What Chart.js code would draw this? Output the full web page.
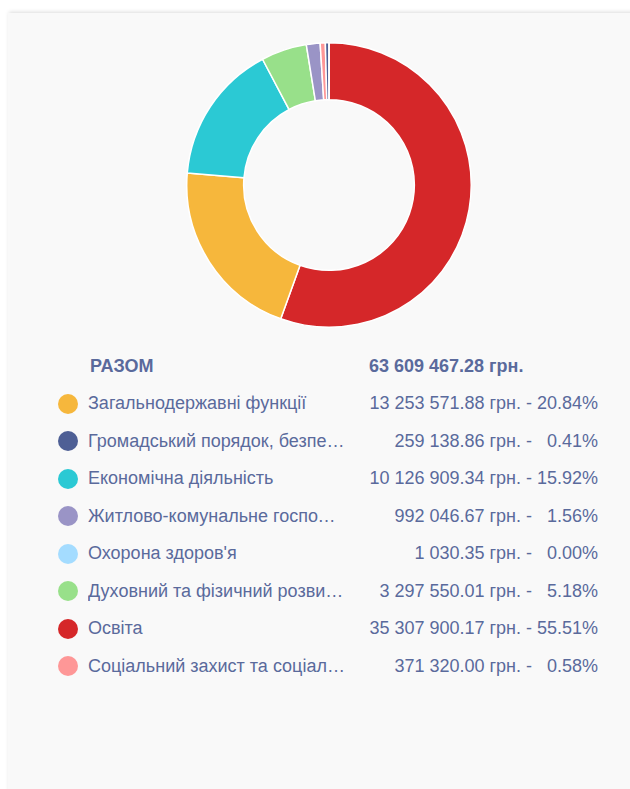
<!DOCTYPE html>
<html>
<head>
<meta charset="utf-8">
<script src="https://cdn.jsdelivr.net/npm/chart.js@4/dist/chart.umd.min.js"></script>
<style>
  html, body { margin: 0; padding: 0; background: #ffffff; width: 630px; height: 789px; overflow: hidden; }
  #panel {
    position: absolute; left: 8px; top: 13px; width: 640px; height: 800px;
    background: #f9f9f9; box-shadow: 0 -2px 4px -1px rgba(0,0,0,0.14);
  }
  #chartBox { position: absolute; left: 186px; top: 42px; width: 286px; height: 286px; }
  #legend {
    position: absolute; left: 56px; top: 347.5px; width: 542px;
    font-family: "Liberation Sans", Arial, sans-serif; font-size: 18px; color: #5a6a9c;
  }
  .row { position: relative; height: 37.5px; display: flex; align-items: center; }
  .dot { position: absolute; left: 2px; width: 20px; height: 20px; border-radius: 50%; }
  .lab { position: absolute; left: 32px; width: 258px; white-space: nowrap; overflow: hidden; text-overflow: ellipsis; }
  .amt { position: absolute; right: 66px; white-space: nowrap; text-align: right; }
  .pct { position: absolute; right: 0; width: 62px; text-align: right; white-space: nowrap; }
  .total .lab { font-weight: bold; left: 34px; }
  .total .tot { position: absolute; left: 313px; font-weight: bold; white-space: nowrap; }
</style>
</head>
<body>
<div id="panel"></div>
<div id="chartBox"><canvas id="c"></canvas></div>
<div id="legend"></div>
<script>
const totalLabel = "РАЗОМ";
const totalText = "63 609 467.28 грн.";
const categories = [
  "Загальнодержавні функції",
  "Громадський порядок, безпека та судова влада",
  "Економічна діяльність",
  "Житлово-комунальне господарство",
  "Охорона здоров'я",
  "Духовний та фізичний розвиток",
  "Освіта",
  "Соціальний захист та соціальне забезпечення"
];
const amounts = [13253571.88, 259138.86, 10126909.34, 992046.67, 1030.35, 3297550.01, 35307900.17, 371320.00];
const amountLabels = ["13 253 571.88", "259 138.86", "10 126 909.34", "992 046.67", "1 030.35", "3 297 550.01", "35 307 900.17", "371 320.00"];
const percentLabels = ["20.84%", "0.41%", "15.92%", "1.56%", "0.00%", "5.18%", "55.51%", "0.58%"];
const colors = ["#f6b73c", "#4e5f95", "#2bc9d4", "#9a94c6", "#a4dcff", "#98e08a", "#d52729", "#fe9797"];

// legend table
const lg = document.getElementById('legend');
let html = '<div class="row total"><span class="lab">' + totalLabel + '</span><span class="tot">' + totalText + '</span></div>';
categories.forEach((c, i) => {
  html += '<div class="row"><span class="dot" style="background:' + colors[i] + '"></span>' +
    '<span class="lab">' + c + '</span>' +
    '<span class="amt">' + amountLabels[i] + ' грн. -</span>' +
    '<span class="pct">' + percentLabels[i] + '</span></div>';
});
lg.innerHTML = html;

// doughnut sorted by value, descending
const order = amounts.map((v, i) => i).sort((a, b) => amounts[b] - amounts[a]);
new Chart(document.getElementById('c'), {
  type: 'doughnut',
  data: {
    labels: order.map(i => categories[i]),
    datasets: [{
      data: order.map(i => amounts[i]),
      backgroundColor: order.map(i => colors[i]),
      borderColor: '#ffffff',
      borderWidth: 1.5
    }]
  },
  options: {
    responsive: true,
    maintainAspectRatio: false,
    animation: false,
    cutout: '60%',
    layout: { padding: 0 },
    plugins: { legend: { display: false }, tooltip: { enabled: false } }
  }
});
</script>
</body>
</html>
